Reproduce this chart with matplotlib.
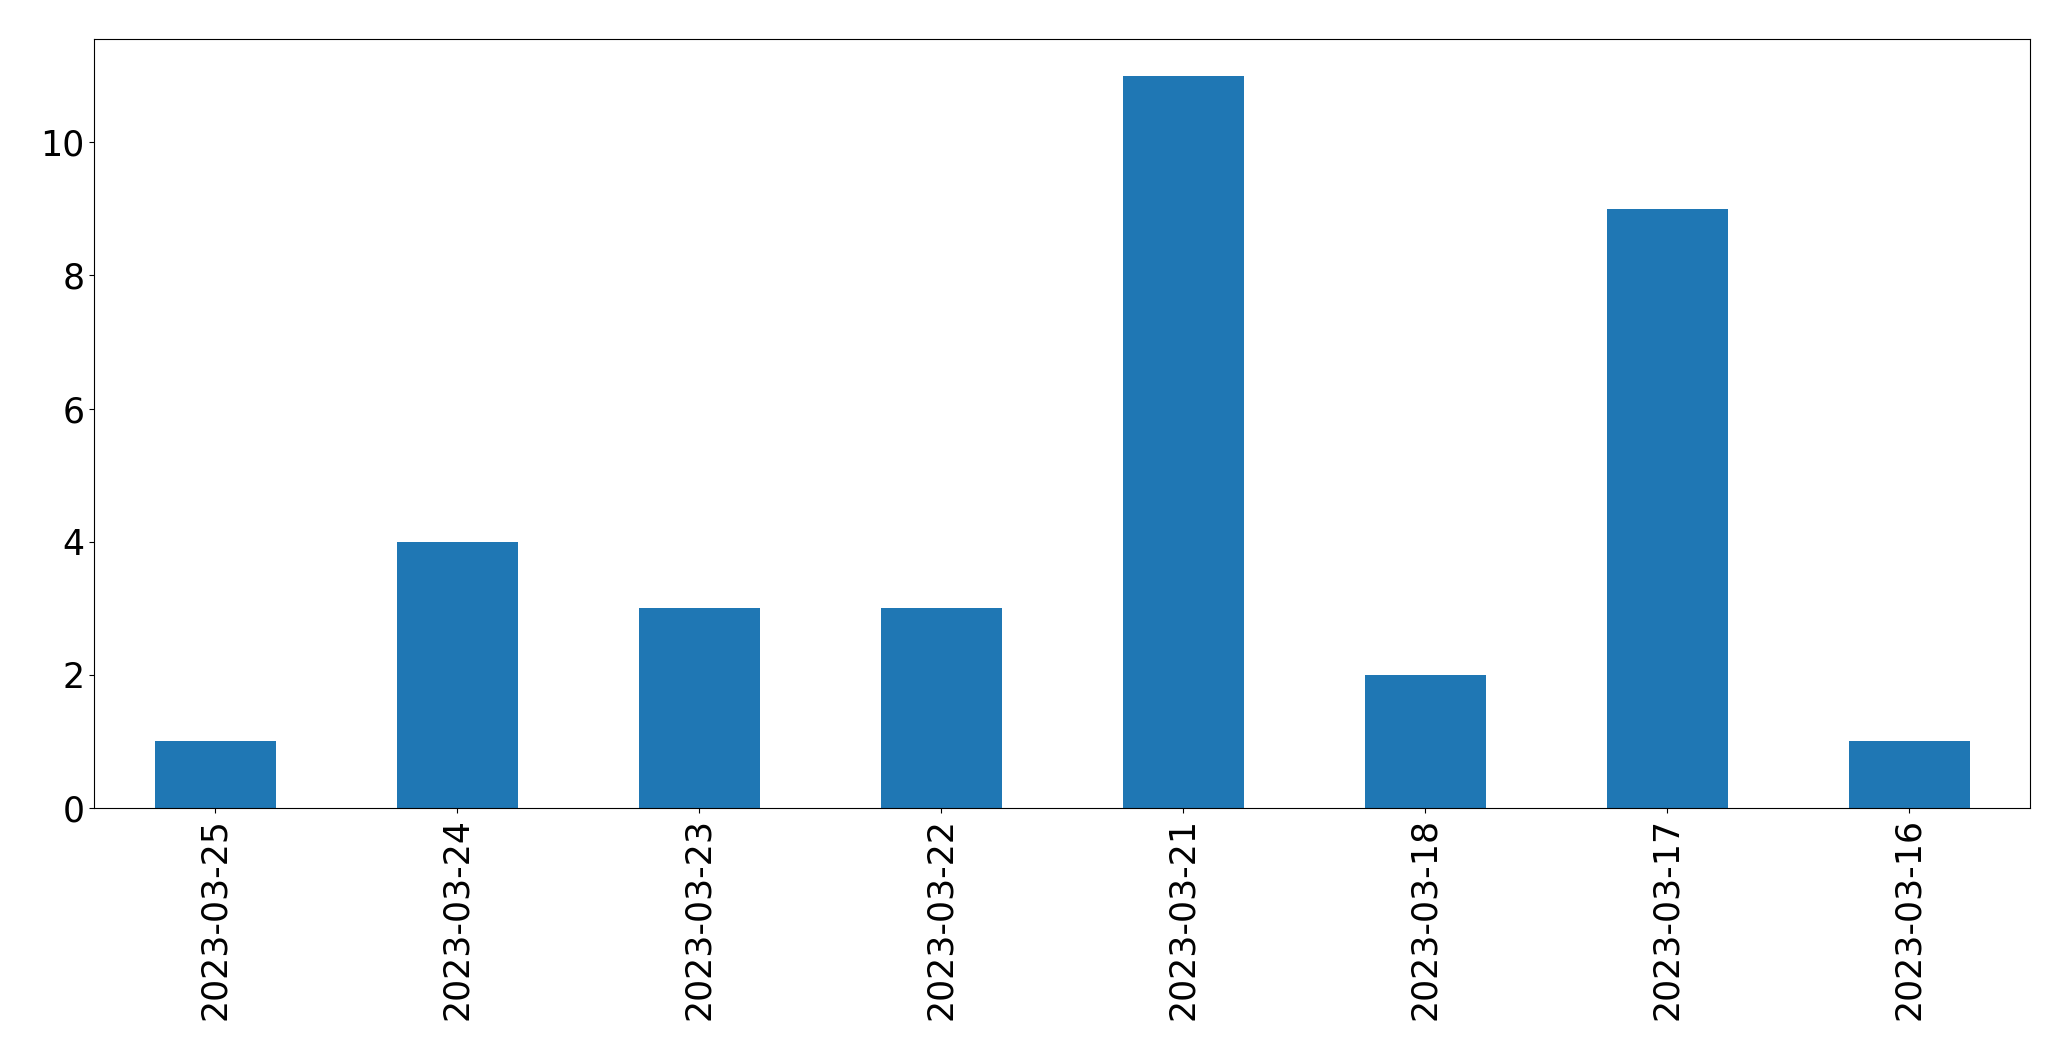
import matplotlib
matplotlib.use("Agg")
import matplotlib.pyplot as plt
import pandas as pd

dates = ["2023-03-25", "2023-03-24", "2023-03-23", "2023-03-22",
         "2023-03-21", "2023-03-18", "2023-03-17", "2023-03-16"]
counts = [1, 4, 3, 3, 11, 2, 9, 1]

s = pd.Series(counts, index=dates)

fig, ax = plt.subplots(figsize=(20.71, 10.61), dpi=100)
fig.subplots_adjust(left=94 / 2071, right=2030 / 2071,
                    bottom=1 - 808 / 1061, top=1 - 39 / 1061)
s.plot(kind="bar", ax=ax, color="#1f77b4")
ax.tick_params(labelsize=25)

fig.savefig("out.png", facecolor="white")
